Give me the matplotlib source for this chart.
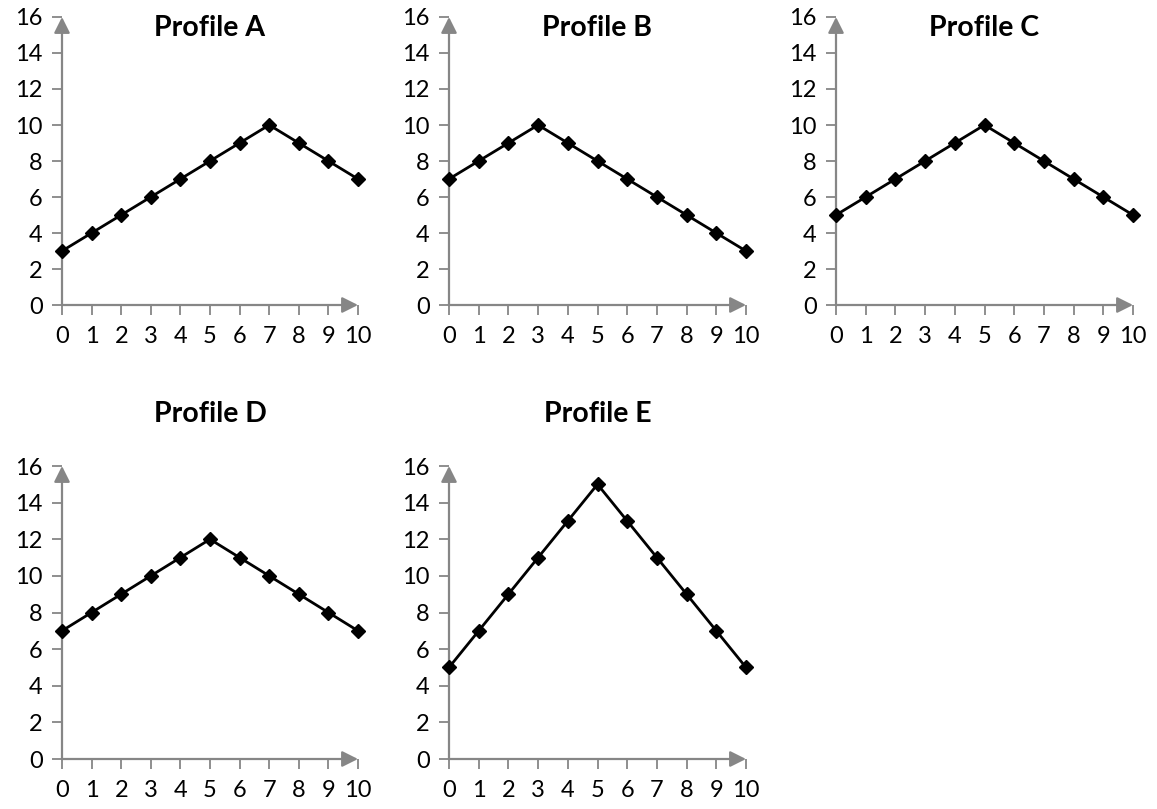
import matplotlib.pyplot as plt
import numpy as np

plt.rcParams['font.family'] = ['Lato', 'DejaVu Sans']

x = np.arange(11)
profile_a = [3, 4, 5, 6, 7, 8, 9, 10, 9, 8, 7]
profile_b = [7, 8, 9, 10, 9, 8, 7, 6, 5, 4, 3]
profile_c = [5, 6, 7, 8, 9, 10, 9, 8, 7, 6, 5]
profile_d = [7, 8, 9, 10, 11, 12, 11, 10, 9, 8, 7]
profile_e = [5, 7, 9, 11, 13, 15, 13, 11, 9, 7, 5]

titles = ['Profile A', 'Profile B', 'Profile C', 'Profile D', 'Profile E']
series = [profile_a, profile_b, profile_c, profile_d, profile_e]

W, H = 1157, 809
fig = plt.figure(figsize=(W / 100, H / 100), dpi=100)

# (left px, x10 px, y0 px, y16 px, title y in axes fraction)
boxes = [
    (62, 358, 305, 17, 0.962),
    (449, 746, 305, 17, 0.962),
    (836, 1133, 305, 17, 0.962),
    (62, 358, 759, 466, 1.177),
    (449, 746, 759, 466, 1.177),
]

axis_grey = '#868686'

for (l, r, b, t, ty), title, y in zip(boxes, titles, series):
    ax = fig.add_axes([l / W, 1 - b / H, (r - l) / W, (b - t) / H])
    ax.set_xlim(0, 10)
    ax.set_ylim(0, 16)
    for s in ax.spines.values():
        s.set_visible(False)
    arrow = dict(arrowstyle='-|>', color=axis_grey, lw=1.6,
                 mutation_scale=24, shrinkA=0, shrinkB=0)
    ax.annotate('', xy=(0, 16), xytext=(0, 0), arrowprops=arrow,
                annotation_clip=False)
    ax.annotate('', xy=(10, 0), xytext=(0, 0), arrowprops=arrow,
                annotation_clip=False)
    ax.plot(x, y, color='black', lw=2, marker='D', markersize=7,
            clip_on=False, zorder=5)
    ax.set_xticks(range(0, 11))
    ax.set_yticks(range(0, 17, 2))
    ax.tick_params(axis='both', direction='out', length=7, width=1.3,
                   color=axis_grey, labelsize=17, labelcolor='black')
    ax.tick_params(axis='x', pad=8)
    ax.tick_params(axis='y', pad=7)
    ax.text(0.5, ty, title, transform=ax.transAxes, ha='center', va='center',
            fontsize=20.5, fontweight='bold')

fig.savefig('out.png', dpi=100)
